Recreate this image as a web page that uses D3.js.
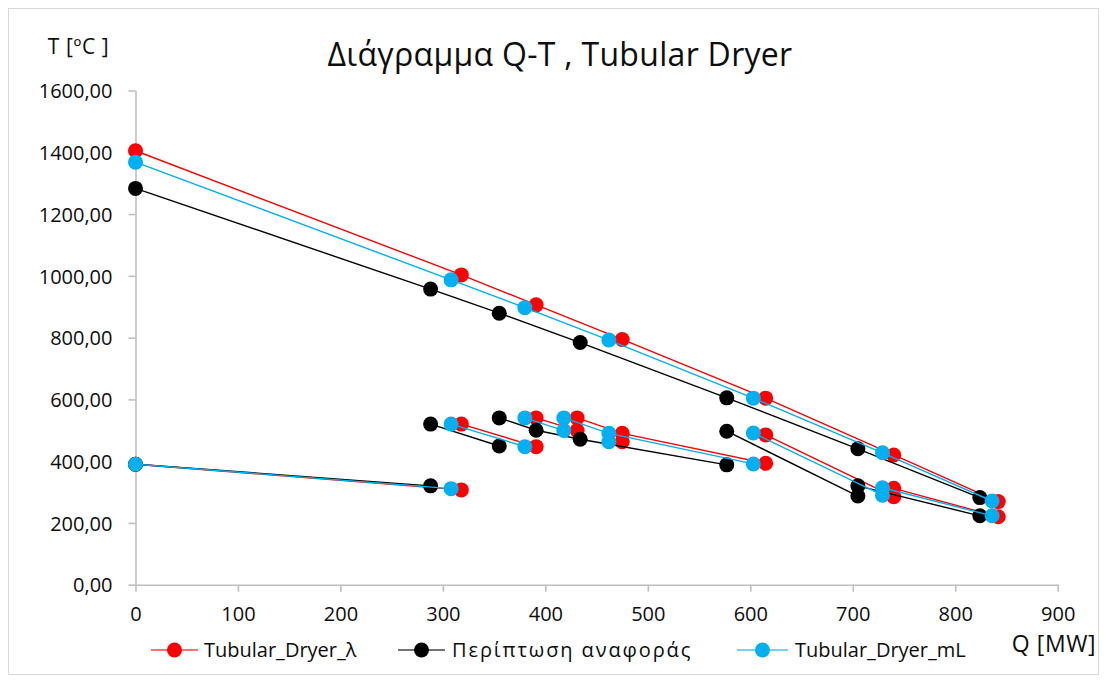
<!DOCTYPE html>
<html>
<head>
<meta charset="utf-8">
<script src="https://cdn.jsdelivr.net/npm/d3@7"></script>
<style>
  html, body { margin: 0; padding: 0; background: #fff; }
  svg { display: block; font-family: "Open Sans", "Noto Sans", sans-serif; }
</style>
</head>
<body>
<svg id="chart" width="1107" height="682"></svg>
<script>
// Q-T diagram of the tubular dryer: each series is a list of polylines,
// one polyline per stream, every point given as [Q in MW, T in °C].
const seriesNames = ["Tubular_Dryer_λ", "Περίπτωση αναφοράς", "Tubular_Dryer_mL"];

const dryerLambda = [
  [[0, 1405], [318, 1003], [391, 906], [475, 794], [615, 604], [740, 420], [842, 269]],
  [[0, 390], [318, 307]],
  [[318, 520], [391, 447]],
  [[391, 540], [431, 499]],
  [[431, 540], [475, 490], [615, 393]],
  [[475, 463]],
  [[615, 485], [740, 285]],
  [[740, 312], [842, 220]]
];

const referenceCase = [
  [[0, 1283], [288, 957], [355, 879], [434, 784], [577, 605], [705, 440], [824, 282]],
  [[0, 390], [288, 320]],
  [[288, 520], [355, 449]],
  [[355, 540], [391, 500], [434, 471], [577, 388]],
  [[577, 497], [705, 287]],
  [[705, 320], [824, 223]]
];

const dryerML = [
  [[0, 1368], [308, 987], [380, 897], [462, 792], [603, 604], [729, 427], [836, 271]],
  [[0, 390], [308, 311]],
  [[308, 520], [380, 447]],
  [[380, 540], [418, 499]],
  [[418, 540], [462, 490], [603, 391]],
  [[462, 463]],
  [[603, 491], [729, 290]],
  [[729, 314], [836, 223]]
];

const xTicks = [0, 100, 200, 300, 400, 500, 600, 700, 800, 900];
const yTicks = [0, 200, 400, 600, 800, 1000, 1200, 1400, 1600];

const chartTitle = "Διάγραμμα Q-T , Tubular Dryer";
const xTitle = "Q [MW]";
const yTitle = "T [ºC ]";

// ---- styling ----
const seriesColors = ["#ff0000", "#000000", "#00b0f0"];
const textColor = "#0d0d0d";
const axisColor = "#bfbfbf";
const markerR = 7.5;
const fontFamily = "'Open Sans', 'Noto Sans', sans-serif";

const svg = d3.select("#chart");

// chart area frame
svg.append("rect")
  .attr("x", 8.5).attr("y", 8.5)
  .attr("width", 1090).attr("height", 666)
  .attr("fill", "#fff").attr("stroke", "#d9d9d9").attr("stroke-width", 1);

const x = d3.scaleLinear().domain([0, 900]).range([135.5, 1057.7]);
const y = d3.scaleLinear().domain([0, 1600]).range([584.7, 90.5]);

// axes
const fmtY = d => d.toFixed(2).replace(".", ",");

const gy = svg.append("g")
  .attr("transform", `translate(${x(0)},0)`)
  .call(d3.axisLeft(y).tickValues(yTicks).tickFormat(fmtY)
    .tickSize(7).tickSizeOuter(0).tickPadding(16));

const gx = svg.append("g")
  .attr("transform", `translate(0,${y(0)})`)
  .call(d3.axisBottom(x).tickValues(xTicks).tickFormat(d3.format("d"))
    .tickSize(7).tickSizeOuter(0).tickPadding(15));

[gx, gy].forEach(g => {
  g.select(".domain").attr("stroke", axisColor).attr("stroke-width", 1.6);
  g.selectAll(".tick line").attr("stroke", axisColor).attr("stroke-width", 1.6);
  g.selectAll(".tick text")
    .attr("fill", textColor)
    .style("font-size", "20px")
    .style("font-family", fontFamily);
});
gy.selectAll(".tick text").attr("dy", "0.36em");

// titles
svg.append("text")
  .attr("x", 560).attr("y", 66)
  .attr("text-anchor", "middle")
  .attr("fill", textColor)
  .style("font-size", "32px")
  .style("letter-spacing", "0.3px")
  .text(chartTitle);

svg.append("text")
  .attr("x", 78.5).attr("y", 54)
  .attr("text-anchor", "middle")
  .attr("fill", textColor)
  .style("font-size", "21px")
  .style("letter-spacing", "0.6px")
  .text(yTitle);

svg.append("text")
  .attr("x", 1054).attr("y", 652)
  .attr("text-anchor", "middle")
  .attr("fill", textColor)
  .style("font-size", "23px")
  .style("letter-spacing", "0.6px")
  .text(xTitle);

// series
const line = d3.line().x(d => x(d[0])).y(d => y(d[1]));
const allSeries = [dryerLambda, referenceCase, dryerML];

allSeries.forEach((segments, i) => {
  const g = svg.append("g");
  g.selectAll("path")
    .data(segments.filter(s => s.length > 1))
    .join("path")
    .attr("d", line)
    .attr("fill", "none")
    .attr("stroke", seriesColors[i])
    .attr("stroke-width", 1.4);
  g.selectAll("circle")
    .data(segments.flat())
    .join("circle")
    .attr("cx", d => x(d[0]))
    .attr("cy", d => y(d[1]))
    .attr("r", markerR)
    .attr("fill", seriesColors[i]);
});

// legend
const legendY = 650;
const legendItems = [
  { x1: 151, x2: 198, tx: 204, spacing: 0 },
  { x1: 398, x2: 445, tx: 452, spacing: 1.9 },
  { x1: 737, x2: 788, tx: 795, spacing: 0 }
];
legendItems.forEach((it, i) => {
  const g = svg.append("g");
  g.append("line")
    .attr("x1", it.x1).attr("x2", it.x2)
    .attr("y1", legendY).attr("y2", legendY)
    .attr("stroke", seriesColors[i]).attr("stroke-width", 2)
    .attr("stroke-opacity", 0.55);
  g.append("circle")
    .attr("cx", (it.x1 + it.x2) / 2).attr("cy", legendY)
    .attr("r", markerR).attr("fill", seriesColors[i]);
  g.append("text")
    .attr("x", it.tx).attr("y", legendY)
    .attr("dy", "0.36em")
    .attr("fill", textColor)
    .style("font-size", "20px")
    .style("letter-spacing", `${it.spacing}px`)
    .text(seriesNames[i]);
});
</script>
</body>
</html>
